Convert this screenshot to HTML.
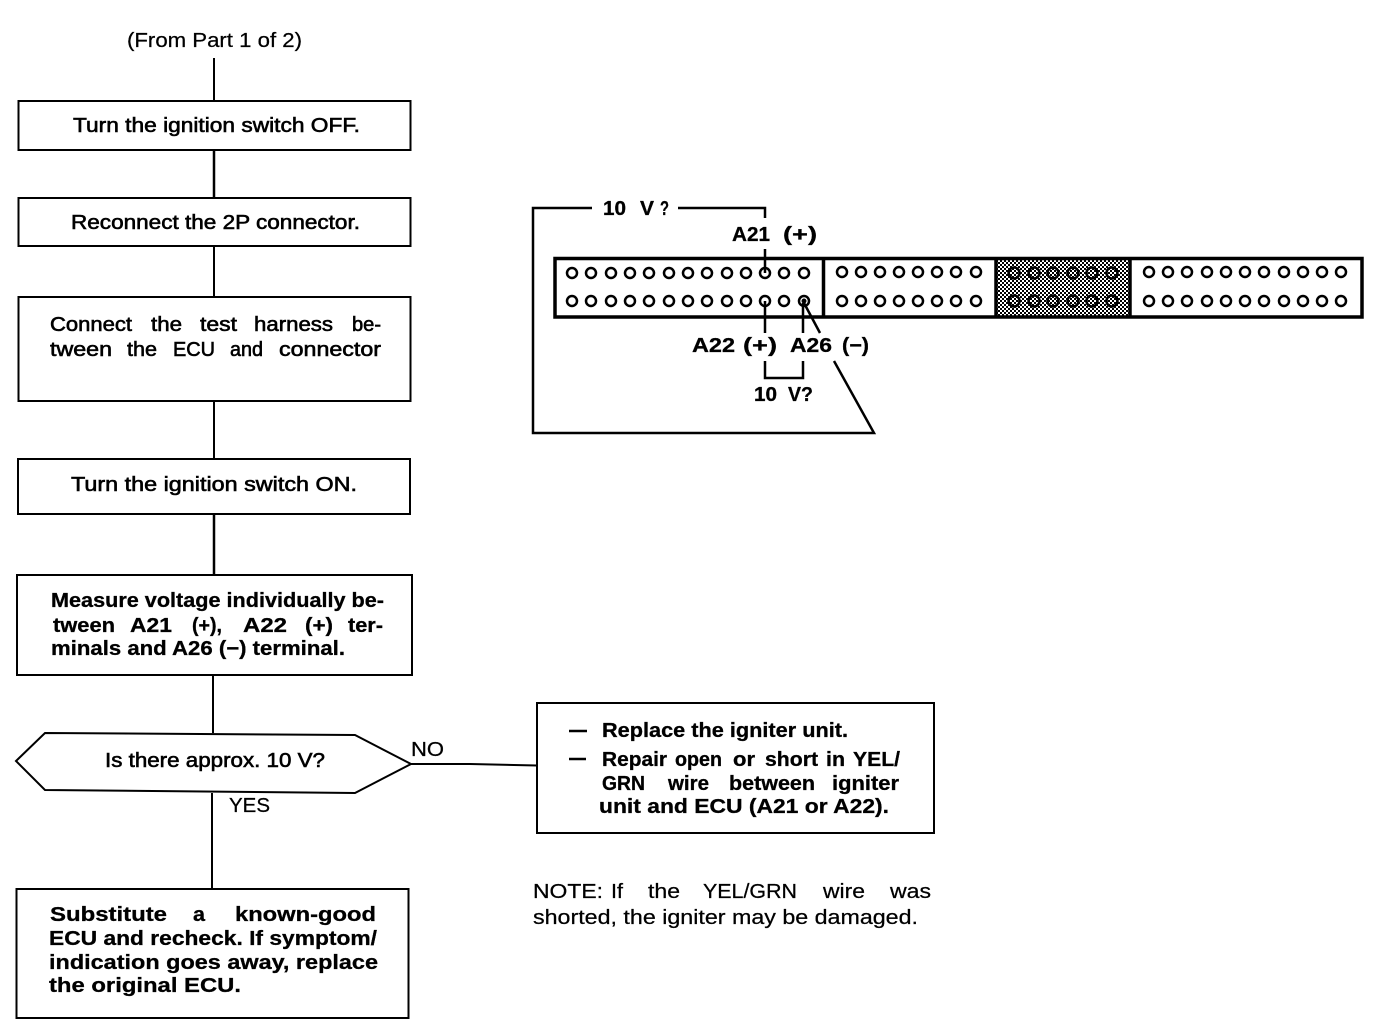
<!DOCTYPE html>
<html><head><meta charset="utf-8"><style>
html,body{margin:0;padding:0;background:#fff;width:1392px;height:1032px;overflow:hidden}
svg{display:block}
text{font-family:"Liberation Sans",sans-serif;font-size:20px;fill:#000;white-space:pre}
.m{font-weight:400;stroke:#000;stroke-width:.6px}
.b{font-weight:700;stroke:#000;stroke-width:.3px}
.r{font-weight:400;stroke:#000;stroke-width:.25px}
.l{fill:none;stroke:#000;stroke-width:2}
.h{fill:none;stroke:#000;stroke-width:3.5}
.c{fill:#fff;stroke:#000;stroke-width:2.5}
.s{fill:none;stroke:#000;stroke-width:2.500}
</style></head><body>
<svg width="1392" height="1032" viewBox="0 0 1392 1032" xmlns="http://www.w3.org/2000/svg">
<defs><pattern id="d" width="4" height="4" patternUnits="userSpaceOnUse"><rect width="4" height="4" fill="#fff"/><rect width="2" height="2" fill="#000"/><rect x="2" y="2" width="2" height="2" fill="#000"/></pattern></defs>

<text class="r" x="127" y="47" textLength="175" lengthAdjust="spacingAndGlyphs">(From Part 1 of 2)</text>
<path class="l" d="M214 58V101M214 246V297M214 401V459M213 675V733M212 793V889"/>
<path fill="none" stroke="#000" stroke-width="2.500" d="M214 150V198M214 514V575"/>
<rect class="l" x="18.500" y="101" width="392" height="49"/>
<rect class="l" x="18.500" y="198" width="392" height="48"/>
<rect class="l" x="18.500" y="297" width="392" height="104"/>
<rect class="l" x="18" y="459" width="392" height="55"/>
<rect class="l" x="17" y="575" width="395" height="100"/>
<polygon class="l" points="16,761 45,733 355,735 411,764 355,793 45,790"/>
<rect class="l" x="16.500" y="889" width="392" height="129"/>
<rect class="l" x="537" y="703" width="397" height="130"/>
<path class="l" d="M411 764H470L537 765.500"/>

<text class="m" x="73" y="132" textLength="287" lengthAdjust="spacingAndGlyphs">Turn the ignition switch OFF.</text>
<text class="m" x="71" y="229" textLength="289" lengthAdjust="spacingAndGlyphs">Reconnect the 2P connector.</text>

<text class="m" x="50" y="331" textLength="82" lengthAdjust="spacingAndGlyphs">Connect</text>
<text class="m" x="151" y="331" textLength="31" lengthAdjust="spacingAndGlyphs">the</text>
<text class="m" x="200" y="331" textLength="37" lengthAdjust="spacingAndGlyphs">test</text>
<text class="m" x="254" y="331" textLength="79" lengthAdjust="spacingAndGlyphs">harness</text>
<text class="m" x="352" y="331" textLength="29" lengthAdjust="spacingAndGlyphs">be-</text>
<text class="m" x="50" y="356" textLength="62" lengthAdjust="spacingAndGlyphs">tween</text>
<text class="m" x="127" y="356" textLength="30" lengthAdjust="spacingAndGlyphs">the</text>
<text class="m" x="173" y="356" textLength="42" lengthAdjust="spacingAndGlyphs">ECU</text>
<text class="m" x="230" y="356" textLength="33" lengthAdjust="spacingAndGlyphs">and</text>
<text class="m" x="279" y="356" textLength="102" lengthAdjust="spacingAndGlyphs">connector</text>

<text class="m" x="71" y="491" textLength="286" lengthAdjust="spacingAndGlyphs">Turn the ignition switch ON.</text>

<text class="b" x="51" y="607" textLength="333" lengthAdjust="spacingAndGlyphs">Measure voltage individually be-</text>
<text class="b" x="53" y="632" textLength="62" lengthAdjust="spacingAndGlyphs">tween</text>
<text class="b" x="130" y="632" textLength="42" lengthAdjust="spacingAndGlyphs">A21</text>
<text class="b" x="192" y="632" textLength="30" lengthAdjust="spacingAndGlyphs">(+),</text>
<text class="b" x="243" y="632" textLength="44" lengthAdjust="spacingAndGlyphs">A22</text>
<text class="b" x="305" y="632" textLength="28" lengthAdjust="spacingAndGlyphs">(+)</text>
<text class="b" x="348" y="632" textLength="35" lengthAdjust="spacingAndGlyphs">ter-</text>
<text class="b" x="51" y="655" textLength="294" lengthAdjust="spacingAndGlyphs">minals and A26 (−) terminal.</text>

<text class="m" x="105" y="767" textLength="220" lengthAdjust="spacingAndGlyphs">Is there approx. 10 V?</text>
<text class="r" x="411" y="756" textLength="33" lengthAdjust="spacingAndGlyphs">NO</text>
<text class="r" x="229" y="812" textLength="41" lengthAdjust="spacingAndGlyphs">YES</text>

<text class="b" x="50" y="921" textLength="117" lengthAdjust="spacingAndGlyphs">Substitute</text>
<text class="b" x="193" y="921" textLength="12" lengthAdjust="spacingAndGlyphs">a</text>
<text class="b" x="235" y="921" textLength="141" lengthAdjust="spacingAndGlyphs">known-good</text>
<text class="b" x="49" y="945" textLength="328" lengthAdjust="spacingAndGlyphs">ECU and recheck. If symptom/</text>
<text class="b" x="49" y="969" textLength="329" lengthAdjust="spacingAndGlyphs">indication goes away, replace</text>
<text class="b" x="49" y="992" textLength="192" lengthAdjust="spacingAndGlyphs">the original ECU.</text>

<path d="M569 731H587M569 759H586" stroke="#000" stroke-width="2.500" fill="none"/>
<text class="b" x="602" y="737" textLength="246" lengthAdjust="spacingAndGlyphs">Replace the igniter unit.</text>
<text class="b" x="602" y="766" textLength="65" lengthAdjust="spacingAndGlyphs">Repair</text>
<text class="b" x="675" y="766" textLength="47" lengthAdjust="spacingAndGlyphs">open</text>
<text class="b" x="733" y="766" textLength="22" lengthAdjust="spacingAndGlyphs">or</text>
<text class="b" x="765" y="766" textLength="53" lengthAdjust="spacingAndGlyphs">short</text>
<text class="b" x="826" y="766" textLength="19" lengthAdjust="spacingAndGlyphs">in</text>
<text class="b" x="853" y="766" textLength="47" lengthAdjust="spacingAndGlyphs">YEL/</text>
<text class="b" x="602" y="790" textLength="43" lengthAdjust="spacingAndGlyphs">GRN</text>
<text class="b" x="668" y="790" textLength="41" lengthAdjust="spacingAndGlyphs">wire</text>
<text class="b" x="729" y="790" textLength="86" lengthAdjust="spacingAndGlyphs">between</text>
<text class="b" x="832" y="790" textLength="67" lengthAdjust="spacingAndGlyphs">igniter</text>
<text class="b" x="599" y="813" textLength="290" lengthAdjust="spacingAndGlyphs">unit and ECU (A21 or A22).</text>

<text class="r" x="533" y="898" textLength="70" lengthAdjust="spacingAndGlyphs">NOTE:</text>
<text class="r" x="611" y="898" textLength="12" lengthAdjust="spacingAndGlyphs">If</text>
<text class="r" x="648" y="898" textLength="32" lengthAdjust="spacingAndGlyphs">the</text>
<text class="r" x="703" y="898" textLength="94" lengthAdjust="spacingAndGlyphs">YEL/GRN</text>
<text class="r" x="823" y="898" textLength="42" lengthAdjust="spacingAndGlyphs">wire</text>
<text class="r" x="890" y="898" textLength="41" lengthAdjust="spacingAndGlyphs">was</text>
<text class="r" x="533" y="924" textLength="385" lengthAdjust="spacingAndGlyphs">shorted, the igniter may be damaged.</text>

<rect x="996" y="259" width="134" height="58" fill="url(#d)"/>
<path class="h" d="M555 258.500H1362V317H555ZM823.500 258V317M996 258V317M1130 258V317"/>
<g>
<circle class="c" cx="572" cy="273" r="5"/><circle class="c" cx="591" cy="273" r="5"/><circle class="c" cx="611" cy="273" r="5"/><circle class="c" cx="630" cy="273" r="5"/><circle class="c" cx="649" cy="273" r="5"/><circle class="c" cx="669" cy="273" r="5"/><circle class="c" cx="688" cy="273" r="5"/><circle class="c" cx="707" cy="273" r="5"/><circle class="c" cx="727" cy="273" r="5"/><circle class="c" cx="746" cy="273" r="5"/><circle class="c" cx="765" cy="273" r="5"/><circle class="c" cx="784" cy="273" r="5"/><circle class="c" cx="804" cy="273" r="5"/>
<circle class="c" cx="572" cy="301" r="5"/><circle class="c" cx="591" cy="301" r="5"/><circle class="c" cx="611" cy="301" r="5"/><circle class="c" cx="630" cy="301" r="5"/><circle class="c" cx="649" cy="301" r="5"/><circle class="c" cx="669" cy="301" r="5"/><circle class="c" cx="688" cy="301" r="5"/><circle class="c" cx="707" cy="301" r="5"/><circle class="c" cx="727" cy="301" r="5"/><circle class="c" cx="746" cy="301" r="5"/><circle class="c" cx="765" cy="301" r="5"/><circle class="c" cx="784" cy="301" r="5"/><circle class="c" cx="804" cy="301" r="5"/>
<circle class="c" cx="842" cy="272" r="5"/><circle class="c" cx="861" cy="272" r="5"/><circle class="c" cx="880" cy="272" r="5"/><circle class="c" cx="899" cy="272" r="5"/><circle class="c" cx="918" cy="272" r="5"/><circle class="c" cx="937" cy="272" r="5"/><circle class="c" cx="956" cy="272" r="5"/><circle class="c" cx="976" cy="272" r="5"/>
<circle class="c" cx="842" cy="301" r="5"/><circle class="c" cx="861" cy="301" r="5"/><circle class="c" cx="880" cy="301" r="5"/><circle class="c" cx="899" cy="301" r="5"/><circle class="c" cx="918" cy="301" r="5"/><circle class="c" cx="937" cy="301" r="5"/><circle class="c" cx="956" cy="301" r="5"/><circle class="c" cx="976" cy="301" r="5"/>
<g style="opacity:1">
<circle class="s" cx="1014" cy="273" r="5.500"/><circle class="s" cx="1034" cy="273" r="5.500"/><circle class="s" cx="1053" cy="273" r="5.500"/><circle class="s" cx="1073" cy="273" r="5.500"/><circle class="s" cx="1092" cy="273" r="5.500"/><circle class="s" cx="1112" cy="273" r="5.500"/>
<circle class="s" cx="1014" cy="301" r="5.500"/><circle class="s" cx="1034" cy="301" r="5.500"/><circle class="s" cx="1053" cy="301" r="5.500"/><circle class="s" cx="1073" cy="301" r="5.500"/><circle class="s" cx="1092" cy="301" r="5.500"/><circle class="s" cx="1112" cy="301" r="5.500"/>
</g>
<circle class="c" cx="1149" cy="272" r="5"/><circle class="c" cx="1168" cy="272" r="5"/><circle class="c" cx="1187" cy="272" r="5"/><circle class="c" cx="1207" cy="272" r="5"/><circle class="c" cx="1226" cy="272" r="5"/><circle class="c" cx="1245" cy="272" r="5"/><circle class="c" cx="1264" cy="272" r="5"/><circle class="c" cx="1284" cy="272" r="5"/><circle class="c" cx="1303" cy="272" r="5"/><circle class="c" cx="1322" cy="272" r="5"/><circle class="c" cx="1341" cy="272" r="5"/>
<circle class="c" cx="1149" cy="301" r="5"/><circle class="c" cx="1168" cy="301" r="5"/><circle class="c" cx="1187" cy="301" r="5"/><circle class="c" cx="1207" cy="301" r="5"/><circle class="c" cx="1226" cy="301" r="5"/><circle class="c" cx="1245" cy="301" r="5"/><circle class="c" cx="1264" cy="301" r="5"/><circle class="c" cx="1284" cy="301" r="5"/><circle class="c" cx="1303" cy="301" r="5"/><circle class="c" cx="1322" cy="301" r="5"/><circle class="c" cx="1341" cy="301" r="5"/>
</g>
<circle cx="804" cy="301" r="2.500" fill="#000"/>

<path class="s" d="M592 208H533V433H874L834 361M678 208H765V218M765 249V273M765 301V333M803 303V333M804 303L820 333M765 361V378H803V361"/>
<text class="b" x="603" y="215" textLength="23" lengthAdjust="spacingAndGlyphs">10</text>
<text class="b" x="640" y="215" textLength="14" lengthAdjust="spacingAndGlyphs">V</text>
<text class="b" x="660" y="215" textLength="9" lengthAdjust="spacingAndGlyphs">?</text>
<text class="b" x="732" y="241" textLength="38" lengthAdjust="spacingAndGlyphs">A21</text>
<text class="b" x="783" y="241" textLength="34" lengthAdjust="spacingAndGlyphs">(+)</text>
<text class="b" x="692" y="352" textLength="43" lengthAdjust="spacingAndGlyphs">A22</text>
<text class="b" x="743" y="352" textLength="34" lengthAdjust="spacingAndGlyphs">(+)</text>
<text class="b" x="790" y="352" textLength="42" lengthAdjust="spacingAndGlyphs">A26</text>
<text class="b" x="842" y="352" textLength="27" lengthAdjust="spacingAndGlyphs">(−)</text>
<text class="b" x="754" y="401" textLength="23" lengthAdjust="spacingAndGlyphs">10</text>
<text class="b" x="788" y="401" textLength="25" lengthAdjust="spacingAndGlyphs">V?</text>
</svg>
</body></html>
